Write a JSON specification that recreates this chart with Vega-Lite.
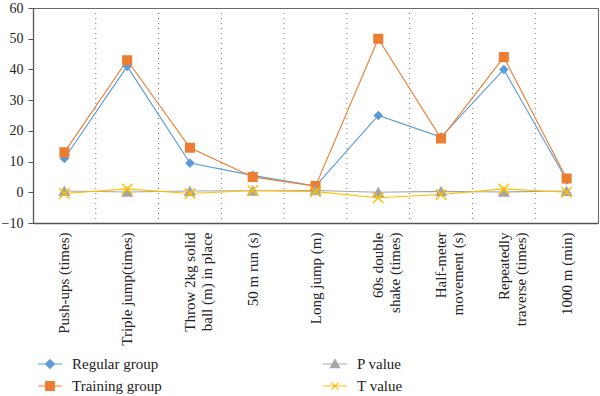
{
  "$schema": "https://vega.github.io/schema/vega-lite/v6.json",
  "width": 565,
  "height": 215,
  "autosize": "none",
  "padding": {"left": 33, "top": 8, "right": 2, "bottom": 173},
  "config": {
    "font": "Liberation Serif",
    "style": {"guide-label": {"font": "Liberation Serif"}},
    "view": {"stroke": "#666", "strokeWidth": 1},
    "axis": {"labelFont": "Liberation Serif", "labelFontSize": 14, "labelColor": "#222"},
    "legend": {"labelFont": "Liberation Serif", "labelFontSize": 15, "labelColor": "#222"}
  },
  "datasets": {
    "pts": [
      {"test": "Push-ups (times)", "series": "Regular group", "value": 11},
      {"test": "Triple jump(times)", "series": "Regular group", "value": 41},
      {"test": "Throw 2kg solid|ball (m) in place", "series": "Regular group", "value": 9.5},
      {"test": "50 m run (s)", "series": "Regular group", "value": 5.5},
      {"test": "Long jump (m)", "series": "Regular group", "value": 2},
      {"test": "60s double|shake (times)", "series": "Regular group", "value": 25},
      {"test": "Half-meter|movement (s)", "series": "Regular group", "value": 18},
      {"test": "Repeatedly|traverse (times)", "series": "Regular group", "value": 40},
      {"test": "1000 m (min)", "series": "Regular group", "value": 4},
      {"test": "Push-ups (times)", "series": "Training group", "value": 13},
      {"test": "Triple jump(times)", "series": "Training group", "value": 43},
      {"test": "Throw 2kg solid|ball (m) in place", "series": "Training group", "value": 14.5},
      {"test": "50 m run (s)", "series": "Training group", "value": 5},
      {"test": "Long jump (m)", "series": "Training group", "value": 2},
      {"test": "60s double|shake (times)", "series": "Training group", "value": 50},
      {"test": "Half-meter|movement (s)", "series": "Training group", "value": 17.5},
      {"test": "Repeatedly|traverse (times)", "series": "Training group", "value": 44},
      {"test": "1000 m (min)", "series": "Training group", "value": 4.5},
      {"test": "Push-ups (times)", "series": "P value", "value": 0.4},
      {"test": "Triple jump(times)", "series": "P value", "value": 0.1},
      {"test": "Throw 2kg solid|ball (m) in place", "series": "P value", "value": 0.4},
      {"test": "50 m run (s)", "series": "P value", "value": 0.5},
      {"test": "Long jump (m)", "series": "P value", "value": 0.6},
      {"test": "60s double|shake (times)", "series": "P value", "value": 0.0},
      {"test": "Half-meter|movement (s)", "series": "P value", "value": 0.3},
      {"test": "Repeatedly|traverse (times)", "series": "P value", "value": 0.1},
      {"test": "1000 m (min)", "series": "P value", "value": 0.4},
      {"test": "Push-ups (times)", "series": "T value", "value": -0.4},
      {"test": "Triple jump(times)", "series": "T value", "value": 1.1},
      {"test": "Throw 2kg solid|ball (m) in place", "series": "T value", "value": -0.4},
      {"test": "50 m run (s)", "series": "T value", "value": 0.6},
      {"test": "Long jump (m)", "series": "T value", "value": 0.2},
      {"test": "60s double|shake (times)", "series": "T value", "value": -1.8},
      {"test": "Half-meter|movement (s)", "series": "T value", "value": -0.7},
      {"test": "Repeatedly|traverse (times)", "series": "T value", "value": 1.1},
      {"test": "1000 m (min)", "series": "T value", "value": 0}
    ],
    "bounds": [
      {"test": "Triple jump(times)"},
      {"test": "Throw 2kg solid|ball (m) in place"},
      {"test": "50 m run (s)"},
      {"test": "Long jump (m)"},
      {"test": "60s double|shake (times)"},
      {"test": "Half-meter|movement (s)"},
      {"test": "Repeatedly|traverse (times)"},
      {"test": "1000 m (min)"}
    ]
  },
  "layer": [
    {
      "data": {"name": "bounds"},
      "mark": {"type": "rule", "color": "#777", "strokeDash": [1, 4], "strokeWidth": 1},
      "encoding": {
        "x": {"field": "test", "type": "nominal", "bandPosition": 0, "sort": null}
      }
    },
    {
      "data": {"values": [{"z": 0}]},
      "mark": {"type": "rule", "color": "#555", "strokeWidth": 1.3},
      "encoding": {"y": {"field": "z", "type": "quantitative"}}
    },
    {
      "data": {"name": "pts"},
      "mark": {"type": "line", "strokeWidth": 1.1},
      "encoding": {
        "x": {"field": "test", "type": "nominal", "sort": null},
        "y": {"field": "value", "type": "quantitative"},
        "color": {"field": "series", "type": "nominal", "legend": null}
      }
    },
    {
      "data": {"name": "pts"},
      "mark": {"type": "point", "filled": true, "opacity": 1, "strokeWidth": 1.5},
      "encoding": {
        "x": {"field": "test", "type": "nominal", "sort": null},
        "y": {"field": "value", "type": "quantitative"},
        "color": {"field": "series", "type": "nominal", "legend": null},
        "stroke": {"field": "series", "type": "nominal", "legend": null},
        "shape": {
          "field": "series", "type": "nominal", "legend": null,
          "scale": {"domain": ["Regular group", "Training group", "P value", "T value"], "range": ["diamond", "square", "triangle-up", "M-1,-1L1,1M-1,1L1,-1"]}
        },
        "size": {
          "field": "series", "type": "nominal", "legend": null,
          "scale": {"domain": ["Regular group", "Training group", "P value", "T value"], "range": [55, 110, 55, 70]}
        }
      }
    },
    {
      "data": {"name": "pts"},
      "mark": {"type": "point", "filled": true, "opacity": 1, "strokeWidth": 1.2, "size": 0},
      "encoding": {
        "x": {"field": "test", "type": "nominal", "sort": null},
        "y": {"field": "value", "type": "quantitative"},
        "color": {
          "field": "series", "type": "nominal",
          "legend": {"orient": "none", "legendX": 4, "legendY": 348, "columns": 2, "columnPadding": 160, "rowPadding": 6, "clipHeight": 16, "title": null, "symbolSize": 576, "symbolStrokeWidth": 1.2, "labelOffset": 9, "labelFont": "Liberation Serif", "labelFontSize": 15, "labelColor": "#222",
            "encode": {"labels": {"update": {"font": {"value": "Liberation Serif"}, "fontSize": {"value": 15}}}}}
        },
        "stroke": {"field": "series", "type": "nominal"},
        "shape": {
          "field": "series", "type": "nominal",
          "scale": {"domain": ["Regular group", "Training group", "P value", "T value"], "range": ["M-1,0H1M0,-0.36L0.36,0L0,0.36L-0.36,0Z", "M-1,0H1M-0.36,-0.36H0.36V0.36H-0.36Z", "M-1,0H1M0,-0.38L0.38,0.3H-0.38Z", "M-1,0H1M-0.3,-0.3L0.3,0.3M-0.3,0.3L0.3,-0.3"]}
        }
      }
    }
  ],
  "encoding": {
    "x": {
      "field": "test", "type": "nominal", "sort": null,
      "scale": {
        "type": "band", "paddingInner": 0, "paddingOuter": 0,
        "domain": ["Push-ups (times)", "Triple jump(times)", "Throw 2kg solid|ball (m) in place", "50 m run (s)", "Long jump (m)", "60s double|shake (times)", "Half-meter|movement (s)", "Repeatedly|traverse (times)", "1000 m (min)"]
      },
      "axis": {
        "title": null, "ticks": false, "grid": false, "domainColor": "#555", "domainWidth": 1.3,
        "labelAngle": 270, "labelAlign": "right", "labelBaseline": "middle", "labelPadding": 9, "labelFontSize": 15,
        "labelLineHeight": 17, "labelExpr": "split(datum.label, '|')"
      }
    },
    "y": {
      "type": "quantitative",
      "scale": {"domain": [-10, 60], "nice": false, "zero": false},
      "axis": {"title": null, "grid": false, "values": [-10, 0, 10, 20, 30, 40, 50, 60], "tickColor": "#555", "tickSize": 5, "domainColor": "#555", "domainWidth": 1.3, "labelPadding": 5}
    },
    "color": {
      "scale": {"domain": ["Regular group", "Training group", "P value", "T value"], "range": ["#5B9BD5", "#ED7D31", "#A5A5A5", "#FFC000"]}
    },
    "stroke": {
      "scale": {"domain": ["Regular group", "Training group", "P value", "T value"], "range": ["#5B9BD5", "#ED7D31", "#A5A5A5", "#FFC000"]}
    }
  },
  "resolve": {
    "scale": {"x": "shared", "shape": "independent", "size": "independent"},
    "legend": {"color": "independent", "stroke": "independent", "shape": "independent", "size": "independent"}
  }
}
